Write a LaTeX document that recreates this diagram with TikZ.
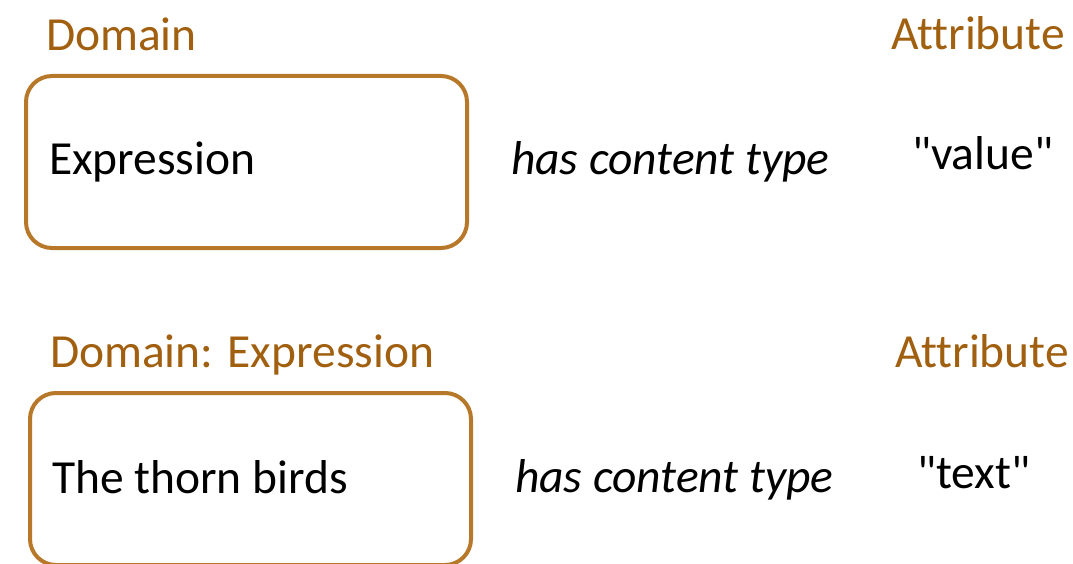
\documentclass[tikz,border=0pt]{standalone}
\usepackage{fontspec}
\setmainfont{Carlito}[Ligatures={TeXOff,CommonOff}]
\definecolor{boxbrown}{HTML}{B8782A}
\definecolor{labelbrown}{HTML}{A15F10}
\begin{document}
\begin{tikzpicture}[x=1pt,y=-1pt,
  txt/.style={inner sep=0pt, outer sep=0pt, anchor=base west, font=\fontsize{47.5}{56}\selectfont},
  lbl/.style={txt, text=labelbrown},
  rel/.style={txt, font=\fontsize{47.5}{56}\selectfont\itshape},
  dbox/.style={draw=boxbrown, line width=4pt, rounded corners=26pt, minimum width=441pt, minimum height=172pt, inner sep=0pt}]
\useasboundingbox (0,0) rectangle (1073,564);
% row 1
\node[lbl] (dom1) at (46,51) {Domain};
\node[lbl] (att1) at (891,50) {Attribute};
\node[dbox] (box1) at (246.5,162) {};
\node[txt] (expr) at (49,175) {Expression};
\node[rel] (rel1) at (511,175) {has content type};
\node[txt] (val1) at (912,170) {"value"};
% row 2
\node[lbl] (dom2) at (50,367) {Domain: Expression};
\node[lbl] (att2) at (895,367) {Attribute};
\node[dbox] (box2) at (250.5,479) {};
\node[txt] (thorn) at (52,493) {The thorn birds};
\node[rel] (rel2) at (515,492) {has content type};
\node[txt] (val2) at (917,488) {"text"};
\end{tikzpicture}
\end{document}
